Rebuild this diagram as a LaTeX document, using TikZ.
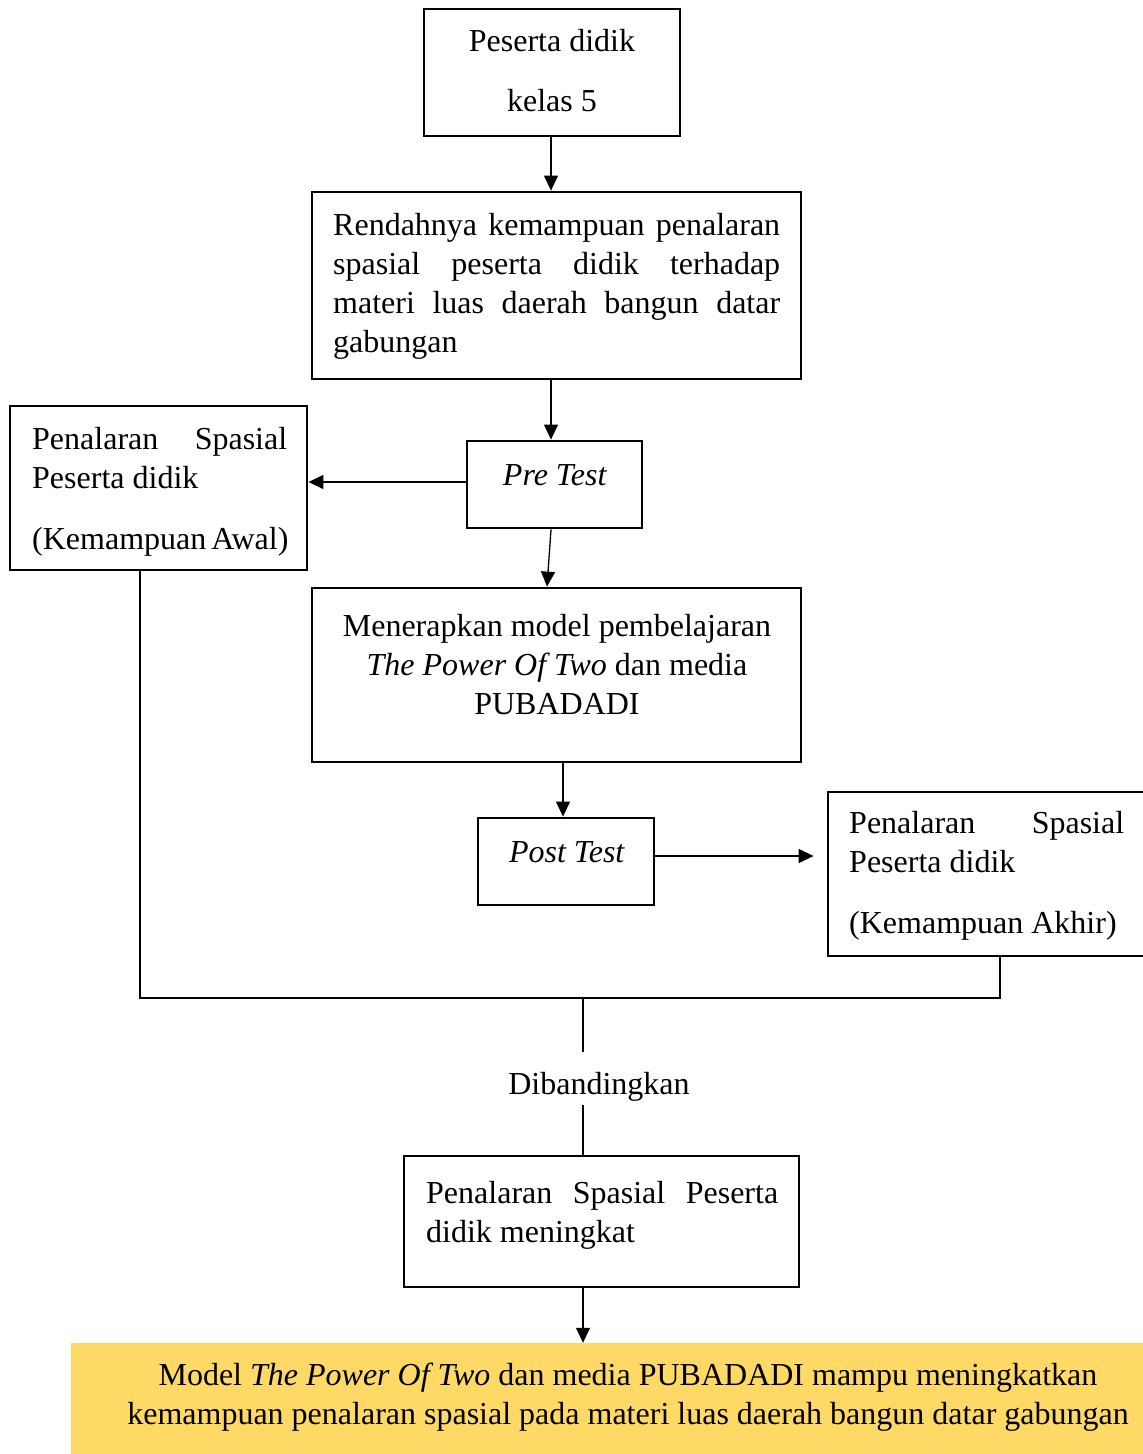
\documentclass[tikz,border=0pt]{standalone}
\usepackage{fontspec}
\setmainfont{Liberation Serif}
\usetikzlibrary{arrows.meta,calc}
\definecolor{gold}{HTML}{FFD966}
\newcommand{\jl}[1]{\makebox[\linewidth][s]{#1}}
\tikzset{
  box/.style={draw=black,line width=2.8pt,rectangle,inner sep=0pt},
  txt/.style={inner sep=0pt,font=\fontsize{32}{39.3}\selectfont},
  conn/.style={line width=1.3pt},
  arr/.style={line width=1.3pt,-{Triangle[length=15pt,width=14pt]}}
}
\begin{document}
\begin{tikzpicture}[x=1pt,y=-1pt]
\useasboundingbox (0,0) rectangle (1143,1454);
% boxes
\node[box,minimum width=256pt,minimum height=127pt] (b1) at (552,72.5) {};
\node[box,minimum width=489pt,minimum height=187pt] (b2) at (556.5,285.5) {};
\node[box,minimum width=175pt,minimum height=87pt] (pre) at (554.5,484.5) {};
\node[box,minimum width=297pt,minimum height=164pt] (awal) at (158.5,488) {};
\node[box,minimum width=489pt,minimum height=174pt] (men) at (556.5,675) {};
\node[box,minimum width=176pt,minimum height=87pt] (post) at (566,861.5) {};
\node[box,minimum width=318pt,minimum height=164pt] (akhir) at (987,874) {};
\node[box,minimum width=395pt,minimum height=131pt] (bot) at (601.5,1221.5) {};
\node[fill=gold,inner sep=0pt,minimum width=1079pt,minimum height=117pt] (res) at (610.5,1401.5) {};
% texts
\node[txt,anchor=base] (t1a) at (552,51) {Peserta didik};
\node[txt,anchor=base] (t1b) at (552,111) {kelas 5};
\node[txt,anchor=base west] (t2) at (333,235) {\parbox[t]{447pt}{\jl{Rendahnya kemampuan penalaran}\\\jl{spasial peserta didik terhadap}\\\jl{materi luas daerah bangun datar}\\gabungan}};
\node[txt,anchor=base] (tpre) at (555,485) {\textit{Pre Test}};
\node[txt,anchor=base west] (tawal) at (32,449) {\parbox[t]{255pt}{\jl{Penalaran Spasial}\\Peserta didik\\[22pt]\mbox{(Kemampuan\kern5pt Awal)}}};
\node[txt,anchor=base] (tmen) at (557,636) {\parbox[t]{489pt}{\centering Menerapkan model pembelajaran\\\textit{The Power Of Two} dan media\\PUBADADI}};
\node[txt,anchor=base] (tpost) at (567,862) {\textit{Post Test}};
\node[txt,anchor=base west] (takhir) at (849,833) {\parbox[t]{275pt}{\jl{Penalaran Spasial}\\Peserta didik\\[22pt]\mbox{(Kemampuan Akhir)}}};
\node[txt,anchor=base] (tdib) at (599,1094) {Dibandingkan};
\node[txt,anchor=base west] (tbot) at (426,1203) {\parbox[t]{352pt}{\jl{Penalaran Spasial Peserta}\\didik meningkat}};
\node[txt,anchor=base] (tres) at (628,1385) {\parbox[t]{1100pt}{\centering Model \textit{The Power Of Two} dan media PUBADADI mampu meningkatkan\\kemampuan penalaran spasial pada materi luas daerah bangun datar gabungan}};
% coordinates
\coordinate (cl) at (140,998);
\coordinate (cr) at (1000,998);
\coordinate (cm) at (583,998);
\coordinate (dtop) at (583,1052);
\coordinate (dbot) at (583,1105);
\coordinate (pa) at ([xshift=-13pt]akhir.west |- 0,856);
\coordinate (ps) at (0,856);
% connectors
\draw[arr] (b1.south -| 551,0) -- (b2.north -| 551,0);
\draw[arr] (b2.south -| 551,0) -- (pre.north -| 551,0);
\draw[arr] (pre.west |- 0,482) -- (awal.east |- 0,482);
\draw[arr] ($(pre.south)+(-3.5,0)$) -- ($(men.north)+(-9.5,0)$);
\draw[arr] (men.south -| 563,0) -- (post.north -| 563,0);
\draw[arr] (post.east |- ps) -- (pa);
\draw[conn] (awal.south -| cl) -- (cl) -- (cr) -- (akhir.south -| cr);
\draw[conn] (cm) -- (dtop);
\draw[conn] (dbot) -- (bot.north -| dbot);
\draw[arr] (bot.south -| cm) -- (res.north -| cm);
\end{tikzpicture}
\end{document}
